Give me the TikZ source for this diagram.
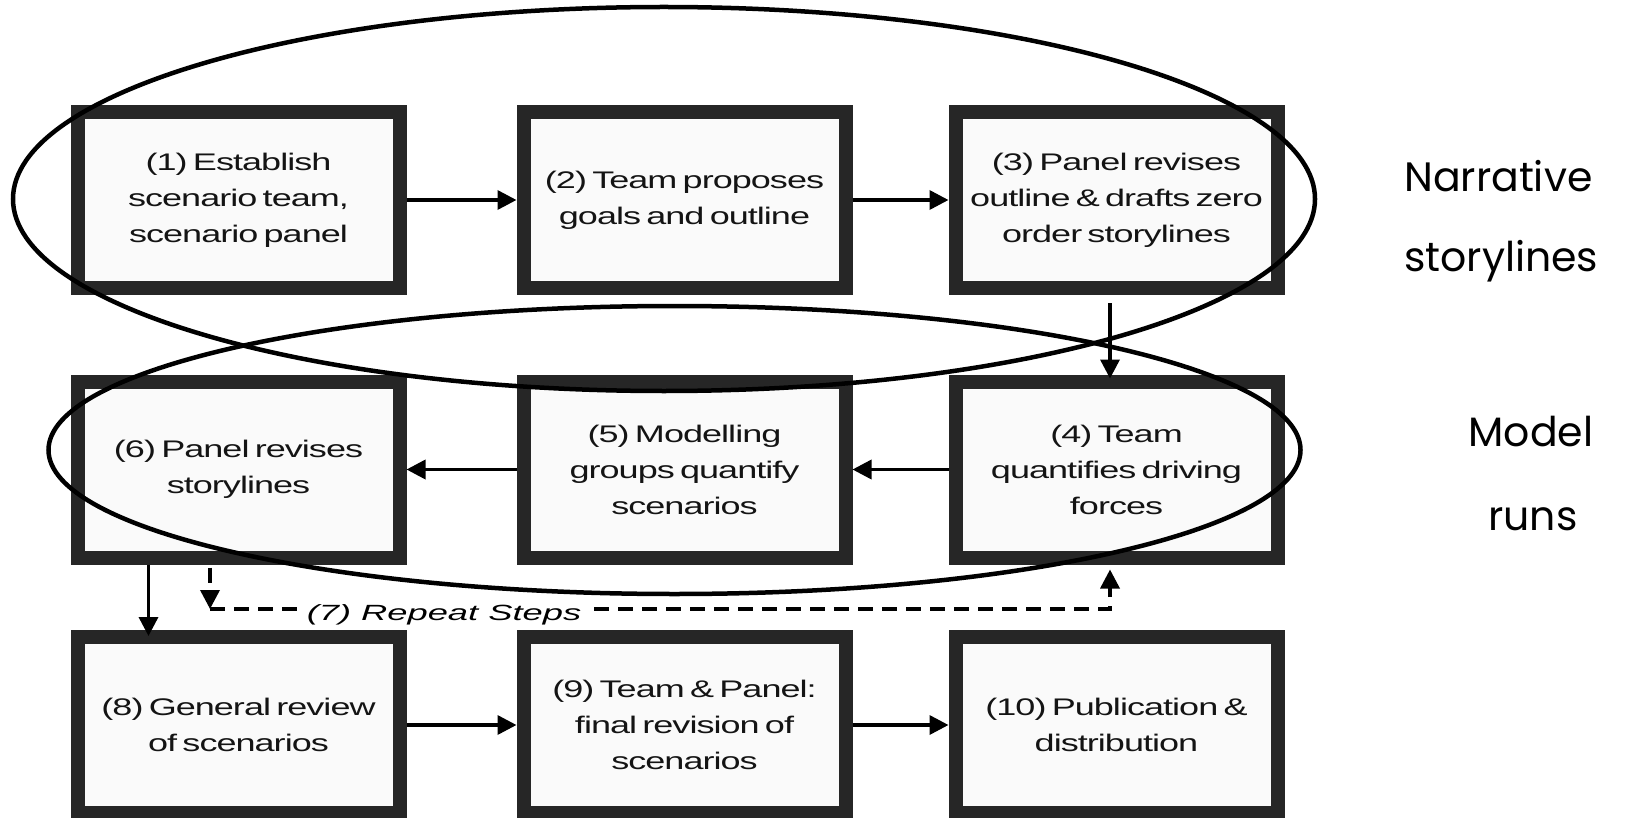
\documentclass[tikz,border=0pt]{standalone}
\usepackage{fontspec}
\setmainfont{Liberation Sans}
\newfontfamily\boxfont[FakeStretch=1.5,LetterSpace=-4]{Liberation Sans}
\newfontfamily\lblfont[FakeStretch=1.65]{Liberation Sans}
\newfontfamily\sidefont{Poppins}
\newcommand\boxfontset{\boxfont\fontsize{24}{36}\selectfont\spaceskip=0.22em plus 0.1em\relax}
\usetikzlibrary{arrows.meta,shapes.geometric}
\definecolor{bordergray}{HTML}{262626}
\definecolor{boxfill}{HTML}{FAFAFA}
\definecolor{txtgray}{HTML}{141414}
\begin{document}
\begin{tikzpicture}[x=1pt,y=-1pt,
  stepbox/.style={draw=bordergray, line width=14pt, fill=boxfill,
    minimum width=322pt, minimum height=176pt, inner sep=0pt, align=center,
    text=txtgray, font=\boxfontset},
  flow/.style={line width=3.5pt, -{Triangle[length=19pt,width=19pt]}},
  repeatline/.style={line width=3.5pt, dash pattern=on 15pt off 9pt,
    -{Triangle[length=19pt,width=19pt]}},
  oval/.style={draw=black, line width=4.5pt},
  sidelabel/.style={font=\sidefont\fontsize{41}{50}\selectfont, inner sep=0pt}
]
\useasboundingbox (0,0) rectangle (1645,818);

% boxes
\node[stepbox] (b1) at (238.5,200) {(1) Establish\\scenario team,\\scenario panel};
\node[stepbox] (b2) at (684.5,200) {(2) Team proposes\\goals and outline};
\node[stepbox] (b3) at (1116.5,200) {(3) Panel revises\\outline \& drafts zero\\order storylines};
\node[stepbox] (b4) at (1116.5,469.5) {(4) Team\\quantifies driving\\forces};
\node[stepbox] (b5) at (684.5,469.5) {(5) Modelling\\groups quantify\\scenarios};
\node[stepbox] (b6) at (238.5,469.5) {(6) Panel revises\\storylines};
\node[stepbox] (b8) at (238.5,725) {(8) General review\\of scenarios};
\node[stepbox] (b9) at (684.5,725) {(9) Team \& Panel:\\final revision of\\scenarios};
\node[stepbox] (b10) at (1116.5,725) {(10) Publication \&\\distribution};

% connectors
\draw[flow] (b1) -- (b2);
\draw[flow] (b2) -- (b3);
\draw[flow] ([xshift=-6.5pt,yshift=-8pt]b3.south) -- ([xshift=-6.5pt,yshift=-4pt]b4.north);
\draw[flow] (b4) -- (b5);
\draw[flow] (b5) -- (b6);
\draw[flow] ([xshift=78pt]b6.south west) -- ([xshift=78pt,yshift=-6pt]b8.north west);
\draw[flow] (b8) -- (b9);
\draw[flow] (b9) -- (b10);

% repeat loop
\coordinate (r1) at (210,609);
\draw[repeatline] ([xshift=139.5pt,yshift=-3pt]b6.south west) -- (r1);
\draw[repeatline] (r1) -| ([xshift=-6.5pt,yshift=-5pt]b4.south);
\node[font=\lblfont\itshape\fontsize{22}{26}\selectfont, fill=white, inner sep=5pt] (l7) at (444,615) {(7) Repeat Steps};

% ovals
\draw[oval] (664,199) ellipse [x radius=651pt, y radius=192pt];
\draw[oval] (674.5,450) ellipse [x radius=626pt, y radius=144pt];

% side labels
\node[sidelabel, anchor=base west] (n1) at (1404,192) {Narrative};
\node[sidelabel, anchor=base west] (n2) at (1404,271) {storylines};
\node[sidelabel, anchor=base] (m1) at (1531,446) {Model};
\node[sidelabel, anchor=base] (m2) at (1533,530) {runs};
\end{tikzpicture}
\end{document}
